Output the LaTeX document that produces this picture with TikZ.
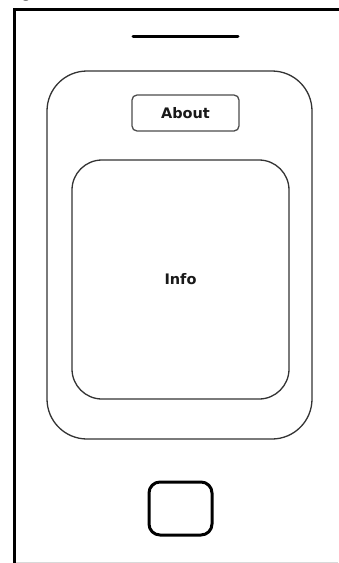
\documentclass[tikz,border=0pt]{standalone}
\usepackage{fontspec}
\newfontfamily\uifont{DejaVu Sans}
\newfontfamily\titlefont{Liberation Serif}
\begin{document}
\begin{tikzpicture}[x=1pt,y=1pt,
  screenbox/.style={draw=black!80, line width=1.3pt, inner sep=0pt},
  labeltext/.style={font=\uifont\bfseries\fontsize{14.5}{16}\selectfont, text=black!90}]
\useasboundingbox (0,0) rectangle (338,-563);
\fill[white] (0,0) rectangle (338,-563);
% clipped title at top
\node[anchor=base east, inner sep=0pt, font=\titlefont\bfseries\fontsize{16}{18}\selectfont] (title) at (84,2.5) {Page About};
% phone frame
\coordinate (fbl) at (14.5,-563);
\coordinate (ftl) at (14.5,-9.5);
\coordinate (ftr) at (340,-9.5);
\draw[line width=3pt, black] (fbl) -- (ftl) -- (ftr);
\coordinate (bl) at (16,-562);
\coordinate (br) at (338,-562);
\draw[line width=1pt, black!15] (bl) -- (br);
% speaker
\coordinate (spl) at (133,-36);
\coordinate (spr) at (238,-36);
\draw[line width=3pt, line cap=round] (spl) -- (spr);
% screen
\node[screenbox, rounded corners=40pt, minimum width=265pt, minimum height=368pt] (screen) at (179.5,-255) {};
\node[screenbox, rounded corners=30pt, minimum width=217pt, minimum height=239pt, labeltext] (info) at (180.5,-279.5) {Info};
\node[screenbox, draw=black!70, rounded corners=5pt, minimum width=107pt, minimum height=36pt, labeltext] (about) at (185.5,-113) {About};
% home button
\node[draw, line width=3pt, rounded corners=11pt, minimum width=63pt, minimum height=53pt] (home) at (180.5,-508.5) {};
\end{tikzpicture}
\end{document}
